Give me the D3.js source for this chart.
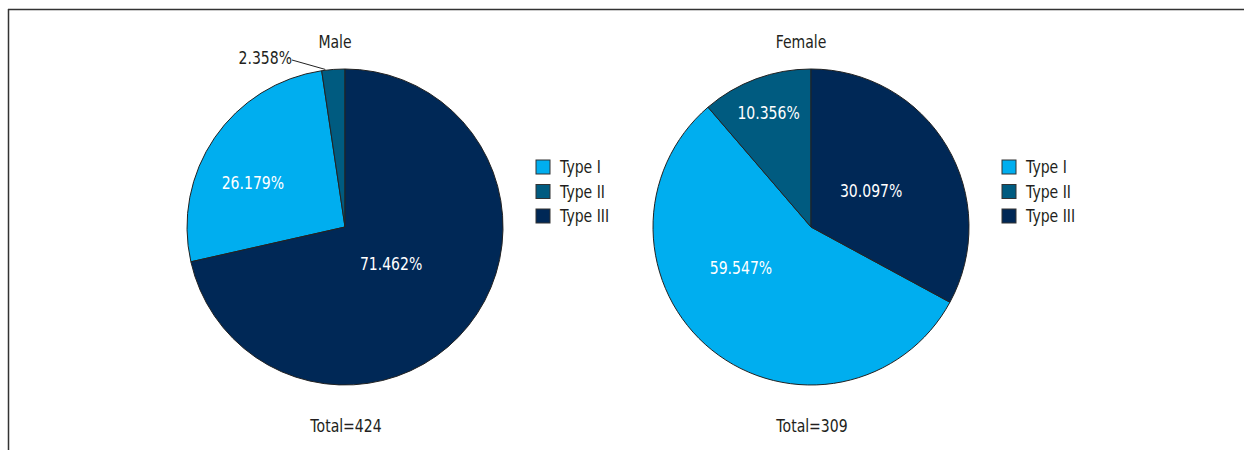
<!DOCTYPE html>
<html lang="en">
<head>
    <meta charset="UTF-8">
    <title>Type by sex</title>
    <script src="https://cdnjs.cloudflare.com/ajax/libs/d3/7.8.5/d3.min.js"></script>
    <style>
        body { margin: 0; background: #fff; }
        text { font-family: "DejaVu Sans", sans-serif; font-size: 18px; }
    </style>
</head>
<body>
<svg id="chart" width="1244" height="450"></svg>

<script>
    // data
    var groups = ['Male', 'Female'];
    var totals = [424, 309];
    var types = ['Type I', 'Type II', 'Type III'];
    // percentages as printed on the slices
    var malePct = [26.179, 2.358, 71.462];
    var femalePct = [59.547, 10.356, 30.097];
    // slice sizes as drawn (female pie in the figure is not drawn to its labels)
    var maleDrawn = [26.179, 2.358, 71.462];
    var femaleDrawn = [55.8, 11.3, 32.9];

    // slices go clockwise from 12 o'clock in this order
    var sliceOrder = ['Type III', 'Type I', 'Type II'];

    var colors = d3.scaleOrdinal()
            .domain(types)
            .range(['#00aeef', '#005b80', '#002856']);

    // percent label placement: distance from centre and turn (deg) off the slice middle
    // r = 0 means outside with a leader line
    var labelPlace = {
        Male: {'Type I': [102, -9], 'Type II': [0, 0], 'Type III': [59, 0]},
        Female: {'Type I': [81, 21], 'Type II': [122, 0], 'Type III': [70, 0]}
    };

    var radius = 158;
    var cy = 227;
    var squeeze = 0.78; // no condensed font installed, so narrow the glyphs

    var svg = d3.select('#chart');

    // text helper: anchored text, horizontally condensed
    function addText(parent, x, y, str, anchor, fill) {
        return parent.append('text')
                .attr('transform', 'translate(' + x + ',' + y + ') scale(' + squeeze + ',1)')
                .attr('text-anchor', anchor || 'middle')
                .attr('fill', fill || '#231f20')
                .text(str);
    }

    // frame
    svg.append('line')
            .attr('x1', 8).attr('x2', 1244).attr('y1', 9.5).attr('y2', 9.5)
            .attr('stroke', '#333').attr('stroke-width', 1.5);
    svg.append('line')
            .attr('x1', 8.5).attr('x2', 8.5).attr('y1', 9).attr('y2', 450)
            .attr('stroke', '#333').attr('stroke-width', 1.5);

    var xPos = d3.scalePoint()
            .domain(groups)
            .range([345, 811]);

    var pie = d3.pie()
            .sort(function (a, b) {
                return sliceOrder.indexOf(a.type) - sliceOrder.indexOf(b.type);
            })
            .value(function (d) { return d.value; });

    var arc = d3.arc().innerRadius(0).outerRadius(radius);

    groups.forEach(function (name, gi) {
        var pct = gi === 0 ? malePct : femalePct;
        var drawn = gi === 0 ? maleDrawn : femaleDrawn;
        var rows = types.map(function (t, i) {
            return {type: t, value: drawn[i], label: pct[i]};
        });
        var cx = xPos(name);

        var g = svg.append('g')
                .attr('transform', 'translate(' + cx + ',' + cy + ')');

        var slices = pie(rows);

        g.selectAll('path')
                .data(slices)
                .enter()
                .append('path')
                .attr('d', arc)
                .attr('fill', function (d) { return colors(d.data.type); })
                .attr('stroke', '#222')
                .attr('stroke-width', 1);

        slices.forEach(function (d) {
            var mid = (d.startAngle + d.endAngle) / 2;
            var place = labelPlace[name][d.data.type];
            var r = place[0];
            var a = mid + place[1] * Math.PI / 180;
            var label = d.data.label.toFixed(3) + '%';
            if (r > 0) {
                addText(g, Math.sin(a) * r, -Math.cos(a) * r + 6, label, 'middle', '#fff');
            } else {
                // small slice: label outside with a leader line
                var ex = Math.sin(mid) * radius, ey = -Math.cos(mid) * radius;
                var lx = -53, ly = -167;
                g.append('polyline')
                        .attr('points', [[lx, ly], [ex - 8, ey]].join(' '))
                        .attr('fill', 'none')
                        .attr('stroke', '#222')
                        .attr('stroke-width', 1);
                addText(g, lx, ly + 4, label, 'end');
            }
        });

        // title and total
        addText(g, -10, -179, name);
        addText(g, 1, 205, 'Total=' + totals[gi]);

        // legend
        var legend = svg.append('g')
                .attr('transform', 'translate(' + (cx + 191) + ',' + 160 + ')');

        var item = legend.selectAll('g')
                .data(types)
                .enter()
                .append('g')
                .attr('transform', function (d, i) { return 'translate(0,' + (i * 24.5) + ')'; });

        item.append('rect')
                .attr('width', 14)
                .attr('height', 14)
                .attr('fill', colors)
                .attr('stroke', '#333')
                .attr('stroke-width', 1);

        item.each(function (d) {
            addText(d3.select(this), 24, 13, d, 'start');
        });
    });
</script>
</body>
</html>
